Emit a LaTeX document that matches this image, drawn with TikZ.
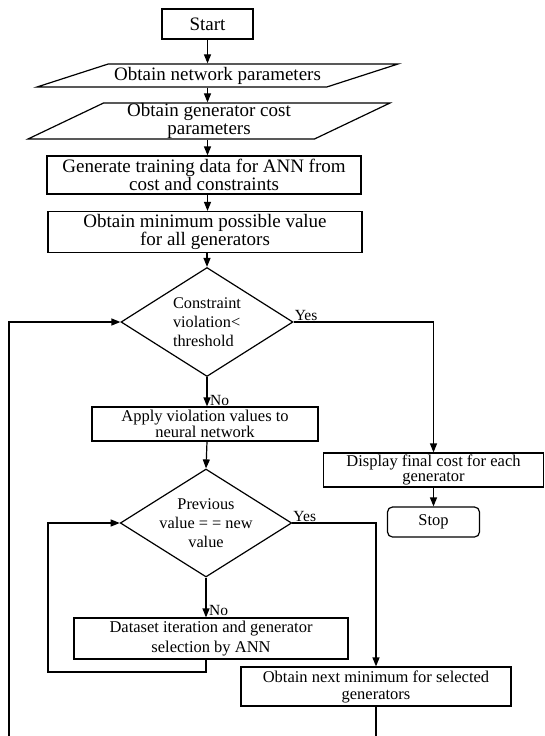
\documentclass[tikz,border=0pt]{standalone}
\usepackage{fontspec}
\setmainfont{Liberation Serif}
\usetikzlibrary{arrows.meta, shapes.geometric, positioning}

\begin{document}
\begin{tikzpicture}[x=1pt, y=-1pt,
    big/.style={font=\fontsize{19}{18}\selectfont},
    small/.style={font=\fontsize{16.5}{15.5}\selectfont},
    procbox/.style={draw, line width=1.2pt, inner sep=0pt, align=center},
    iobox/.style={procbox, trapezium, trapezium stretches body},
    decision/.style={draw, line width=1.2pt, diamond, inner sep=0pt, aspect=1.6,
                     font=\fontsize{16.3}{19}\selectfont},
    lbl/.style={inner sep=1pt, font=\fontsize{15.5}{15.5}\selectfont},
    arr/.style={line width=1.2pt, -{Triangle[length=9pt,width=7pt]}},
  ]
  \useasboundingbox (0,0) rectangle (545,736);
  \clip (0,0) rectangle (545,736);

  % First, locate each of the nodes and name them
  \node[procbox, big, minimum width=91, minimum height=30] (start) at (207.5,24) {Start};

  \node[iobox, big, trapezium left angle=13.6, trapezium right angle=166.4,
        minimum width=361, minimum height=23] (network) at (217.5,75.5) {Obtain network parameters};
  \node[iobox, big, trapezium left angle=25, trapezium right angle=155,
        minimum width=362, minimum height=36] (gencost) at (209,121) {Obtain generator cost\\parameters};

  \node[procbox, big, minimum width=314, minimum height=38] (train) at (204,175) {Generate training data for ANN from\\cost and constraints};
  \node[procbox, big, minimum width=314, minimum height=41] (minval) at (205,232) {Obtain minimum possible value\\for all generators};

  \node[decision, align=left, minimum width=172, minimum height=109] (check) at (207,322) {Constraint\\violation<\\threshold};

  \node[procbox, small, minimum width=226, minimum height=34] (apply) at (205,424) {Apply violation values to\\neural network};
  \node[procbox, small, minimum width=220, minimum height=34] (show) at (433.5,470) {Display final cost for each\\generator};
  \node[procbox, small, rounded corners=5pt, minimum width=92, minimum height=30] (stop) at (433.5,522) {Stop};

  \node[decision, align=center, minimum width=160, minimum height=108] (same) at (206,523) {Previous\\value = = new\\value};

  \node[procbox, font=\fontsize{16.5}{20}\selectfont, minimum width=274, minimum height=41] (pick) at (211,638.5) {Dataset iteration and generator\\selection by ANN};
  \node[procbox, font=\fontsize{16.5}{17}\selectfont, minimum width=270, minimum height=39] (nextmin) at (376,686.5) {Obtain next minimum for selected\\generators};

  % Yes / No labels
  \node[lbl, anchor=south west] (yes1) at (check.east) {Yes};
  \node[lbl, anchor=south west] (yes2) at (same.east) {Yes};
  \coordinate (nopt1) at (check.south |- apply.north);
  \coordinate (nopt2) at (same.south |- pick.north);
  \node[lbl, anchor=west] (no1) at ([xshift=2pt, yshift=6pt]nopt1) {No};
  \node[lbl, anchor=west] (no2) at ([xshift=2pt, yshift=7pt]nopt2) {No};

  % Now draw the lines:
  \draw[arr] (start) -- (start |- network.north);
  \draw[arr] (start |- network.south) -- (start |- gencost.north);
  \draw[arr] (start |- gencost.south) -- (start |- train.north);
  \draw[arr] (start |- train.south) -- (start |- minval.north);
  \draw[arr] (check |- minval.south) -- (check.north);

  \draw[arr] (check.south) -- (nopt1);
  \draw[arr] (check.east) -| (show.north);
  \draw[arr] (show) -- (stop);
  \draw[arr] (check.south |- apply.south) -- (same.north);

  \draw[arr] (same.south) -- (nopt2);
  \draw[arr] (same.east) -| (nextmin.north);

  % Inner loop back to the second test
  \coordinate (back2) at (48,672);
  \draw[arr] (same.south |- pick.south) |- (back2) |- (same.west);

  % Outer loop back to the first test
  \coordinate (back1) at (9,745);
  \draw[arr] (nextmin.south) |- (back1) |- (check.west);
\end{tikzpicture}
\end{document}
